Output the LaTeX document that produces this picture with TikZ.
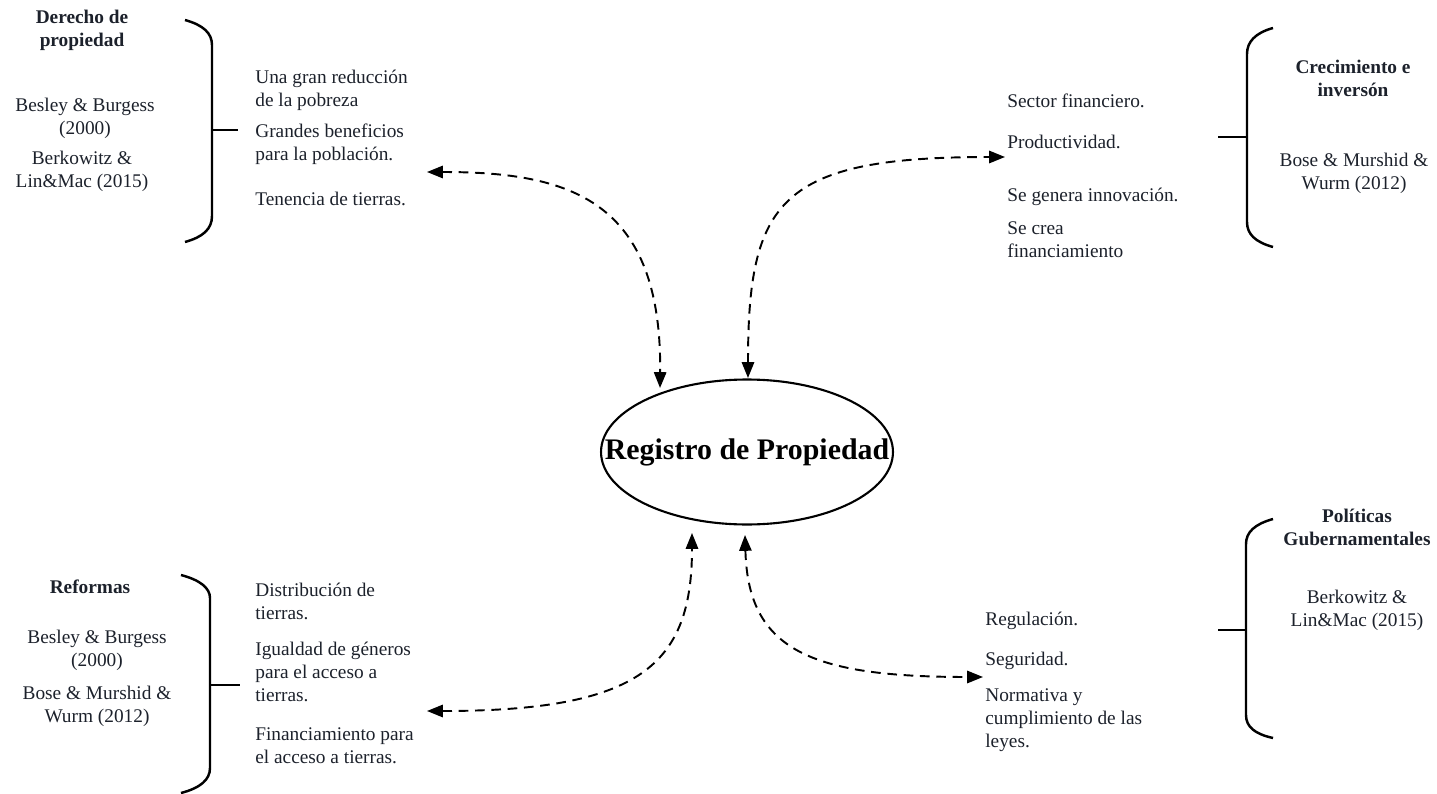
\documentclass[tikz,border=0pt]{standalone}
\usepackage{fontspec}
\setmainfont{Liberation Serif}
\usetikzlibrary{arrows.meta,shapes.geometric}
\definecolor{ink}{RGB}{28,33,43}

\begin{document}
\begin{tikzpicture}[x=0.02cm,y=-0.02cm,
    item/.style={anchor=west,align=left,inner sep=0pt,text=ink,font=\fontsize{11}{13}\selectfont},
    cite/.style={align=center,inner sep=0pt,text=ink,font=\fontsize{11}{13}\selectfont},
    head/.style={align=center,inner sep=0pt,text=ink,font=\fontsize{11}{13}\selectfont\bfseries},
    brace/.style={line width=1.4pt},
    link/.style={line width=1.1pt,dash pattern=on 5.5pt off 3.8pt,{Triangle[length=9pt,width=7pt]}-{Triangle[length=9pt,width=7pt]}}]

    \useasboundingbox (0,0) rectangle (1437,794);

    %centre
    \node[ellipse,draw,line width=1.2pt,minimum width=5.84cm,minimum height=2.9cm,inner sep=0pt] (reg) at (747,452) {};
    \node[inner sep=0pt,font=\fontsize{17}{20}\selectfont\bfseries] (regtxt) at (reg.center) {Registro de Propiedad};

            %derecho de propiedad
            \node[head] (derecho) at (82,30) {Derecho de\\propiedad};
            \node[cite] (dcite1) at (85,118) {Besley \& Burgess\\(2000)};
            \node[cite] (dcite2) at (82,171) {Berkowitz \&\\Lin\&Mac (2015)};
            \draw[brace] (185,20) .. controls (203,25) and (212,33) .. (212,45) -- (212,216) .. controls (212,229) and (203,237) .. (185,242);
            \draw[brace] (212,130) -- (238,130);
            \node[item] (pobreza) at (255,90) {Una gran reducción\\de la pobreza};
            \node[item] (beneficios) at (255,144) {Grandes beneficios\\para la población.};
            \node[item] (tenencia) at (255,199) {Tenencia de tierras.};

            %crecimiento e inversion
            \node[head] (crecimiento) at (1353,78) {Crecimiento e\\inversón};
            \node[cite] (ccite) at (1354,173) {Bose \& Murshid \&\\Wurm (2012)};
            \draw[brace] (1273,28) .. controls (1255,33) and (1247,42) .. (1247,54) -- (1247,222) .. controls (1247,234) and (1255,242) .. (1273,247);
            \draw[brace] (1218,137) -- (1247,137);
            \node[item] (sector) at (1007,101) {Sector financiero.};
            \node[item] (productividad) at (1007,142) {Productividad.};
            \node[item] (innovacion) at (1007,197) {Se genera innovación.};
            \node[item] (financiamiento) at (1007,240) {Se crea\\financiamiento};

            %reformas
            \node[head] (reformas) at (90,587) {Reformas};
            \node[cite] (rcite1) at (97,650) {Besley \& Burgess\\(2000)};
            \node[cite] (rcite2) at (97,706) {Bose \& Murshid \&\\Wurm (2012)};
            \draw[brace] (181,575) .. controls (200,580) and (210,588) .. (210,598) -- (210,768) .. controls (210,780) and (200,788) .. (181,793);
            \draw[brace] (210,685) -- (240,685);
            \node[item] (distribucion) at (255,601) {Distribución de\\tierras.};
            \node[item] (igualdad) at (255,672) {Igualdad de géneros\\para el acceso a\\tierras.};
            \node[item] (acceso) at (255,746) {Financiamiento para\\el acceso a tierras.};

            %politicas gubernamentales
            \node[head] (politicas) at (1357,527) {Políticas\\Gubernamentales};
            \node[cite] (pcite) at (1357,610) {Berkowitz \&\\Lin\&Mac (2015)};
            \draw[brace] (1273,519) .. controls (1255,524) and (1246,532) .. (1246,544) -- (1246,715) .. controls (1246,727) and (1255,734) .. (1273,738);
            \draw[brace] (1218,630) -- (1246,630);
            \node[item] (regulacion) at (985,621) {Regulación.};
            \node[item] (seguridad) at (985,661) {Seguridad.};
            \node[item] (normativa) at (985,720) {Normativa y\\cumplimiento de las\\leyes.};

            %links
            \coordinate (dp) at (427,172);
            \coordinate (ci) at (1005,157);
            \coordinate (rf) at (427,711);
            \coordinate (pg) at (983,677);
            \coordinate (e1) at (660,388);
            \coordinate (e2) at (748,378);
            \coordinate (e3) at (692,533);
            \coordinate (e4) at (745,535);
            \draw[link] (dp) .. controls (570,172) and (662,200) .. (e1);
            \draw[link] (e2) .. controls (748,200) and (780,157) .. (ci);
            \draw[link] (rf) .. controls (640,711) and (692,665) .. (e3);
            \draw[link] (e4) .. controls (748,650) and (810,677) .. (pg);
        \end{tikzpicture}
\end{document}
